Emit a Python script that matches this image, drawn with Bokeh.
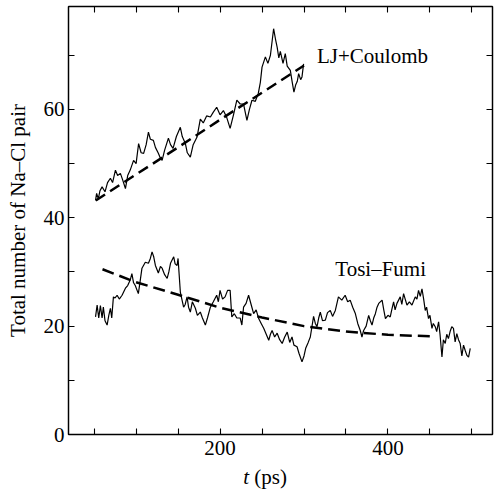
from bokeh.plotting import figure
from bokeh.layouts import column
from bokeh.models import Range1d, FixedTicker, LinearAxis, Label, CustomJSTickFormatter
from bokeh.core.properties import value
from bokeh.embed import file_html
from bokeh.resources import INLINE

# ---- data ----
lj_t = [51.7, 53, 55, 57, 59.5, 63, 66, 69.4, 72, 75.4, 78, 81.3, 84, 87.3, 90, 93, 97, 100,
        103, 106, 109, 112, 114.7, 117, 120.6, 123, 126.5, 129, 131, 134, 138.5, 141, 144,
        148, 152.7, 155, 158.7, 161, 164.6, 168, 172.6, 176.5, 180, 184, 188.5, 192, 196,
        200, 204, 208, 212, 216, 220, 224, 228, 232, 235, 238, 242, 245.6, 248, 250, 254,
        257, 260, 263.8, 266, 268, 270, 271.8, 275, 277.7, 280, 283.7, 286, 288, 290, 292,
        293.6, 296, 297.6, 299.5]
lj_n = [43.2, 44.5, 43.5, 45.0, 45.7, 44.8, 46.5, 47.3, 46.5, 48.8, 47.8, 48.2, 47.0, 45.4,
        47.8, 48.8, 50.6, 50.0, 53.7, 52.0, 51.9, 53.5, 55.8, 54.5, 54.3, 53.0, 51.9, 51.0,
        50.6, 52.5, 54.7, 53.5, 52.8, 55.0, 56.7, 55.0, 53.7, 52.0, 51.2, 53.5, 54.9, 58.2,
        57.5, 58.8, 58.6, 59.5, 60.4, 59.0, 59.8, 58.5, 56.5, 59.0, 61.7, 61.0, 61.0, 58.0,
        60.0, 61.7, 61.5, 63.0, 65.0, 67.8, 69.7, 68.5, 70.0, 74.9, 73.0, 71.5, 69.5, 70.7,
        68.5, 70.3, 68.0, 67.2, 65.0, 63.2, 64.5, 65.2, 66.6, 65.5, 66.0, 68.4]

tf_t = [51.7, 53.6, 55.5, 57.5, 59.5, 61, 63, 65.5, 67.5, 69.4, 71, 73, 75, 77.4, 80, 83.3,
        87.3, 90, 93, 95, 97, 99, 102.7, 105, 107, 111, 114.7, 117, 119, 121, 123, 126.5,
        129, 131, 134, 137, 139, 141, 144.8, 146.5, 148.8, 150, 152.7, 154.5, 156.6, 158.5,
        160.7, 162.5, 164.6, 167, 170.6, 173, 176.5, 179, 182.5, 185, 188.5, 192, 196, 198,
        200, 203, 206, 209, 212, 214, 217, 220, 224, 226, 228, 231, 234, 237, 240, 243, 246,
        249, 252, 255, 258, 260, 262, 265, 268, 271, 274, 277, 280, 283, 285.7, 288, 291.7,
        294, 297.6, 300, 302, 305, 307.5, 311.4, 313.5, 315.5, 317.5, 319.4, 322, 325.4, 328,
        331.3, 334, 337.3, 341, 345, 349, 352, 355, 358, 361, 364, 367, 369, 371, 374, 377,
        379, 381, 383, 385, 387, 389, 393, 395, 397, 400, 402.7, 404.5, 406.7, 408.5, 410.7,
        414.6, 416.5, 418.6, 420.5, 422.6, 425.5, 428.6, 432.5, 434.5, 436.4, 438.5, 440.5,
        442.5, 444.4, 446, 448.3, 450, 452.4, 454, 456.3, 458, 460.3, 462, 464.3, 466, 468.2,
        470, 472, 474, 476, 478, 480, 482, 484, 486, 488, 490, 492, 494, 496, 498]
tf_n = [21.7, 23.9, 21.5, 23.8, 21.5, 23.5, 21.0, 20.2, 22.0, 23.3, 21.5, 25.4, 25.2, 25.7,
        25.0, 25.7, 27.0, 27.5, 28.5, 29.7, 28.0, 27.5, 26.0, 28.5, 30.7, 31.8, 31.6, 32.5,
        33.7, 32.8, 31.2, 29.8, 31.0, 30.7, 29.5, 28.8, 30.0, 31.6, 32.8, 31.5, 31.2, 32.5,
        26.3, 25.0, 23.5, 24.0, 25.4, 23.5, 22.6, 24.5, 23.3, 22.0, 22.6, 21.5, 20.2, 21.5,
        23.5, 24.5, 25.7, 24.5, 26.6, 25.0, 25.4, 26.6, 26.6, 21.7, 22.3, 21.5, 21.5, 20.2,
        23.5, 24.2, 25.7, 24.0, 22.3, 23.0, 21.4, 20.5, 19.6, 18.5, 17.4, 18.5, 19.2, 18.0,
        18.7, 17.5, 16.8, 18.0, 18.9, 17.0, 18.0, 16.5, 16.2, 15.0, 13.4, 14.5, 15.9, 17.0,
        18.0, 21.8, 20.5, 19.9, 21.5, 22.6, 21.0, 21.1, 22.5, 22.9, 21.8, 22.9, 25.4, 24.8,
        25.7, 24.5, 24.8, 23.5, 22.4, 20.5, 19.2, 18.0, 19.2, 20.0, 22.0, 21.0, 20.2, 21.5,
        22.3, 23.5, 24.2, 24.8, 23.0, 21.4, 22.0, 21.7, 23.0, 24.5, 23.0, 24.2, 25.4, 24.0,
        26.0, 25.0, 23.9, 24.5, 23.9, 25.4, 25.0, 26.6, 25.5, 26.9, 25.0, 22.9, 23.5, 21.4,
        22.0, 19.6, 20.5, 19.9, 19.0, 20.8, 18.5, 14.3, 17.5, 16.8, 18.5, 17.7, 19.0, 19.9,
        19.6, 17.1, 18.6, 17.5, 16.8, 14.5, 16.5, 15.5, 14.6, 14.3, 15.9, 15.9]

lj_fit_t = [52, 100, 150, 200, 250, 300]
lj_fit_n = [43.2, 48.0, 53.0, 58.1, 63.1, 68.1]
tf_fit_t = [60, 100, 150, 200, 250, 300, 350, 400, 456]
tf_fit_n = [30.5, 28.1, 25.8, 23.4, 21.6, 20.0, 19.0, 18.4, 18.1]

x_major = [200, 400]
x_minor = [50, 100, 150, 250, 300, 350, 450, 500]
y_major = [0, 20, 40, 60]
y_minor = [10, 30, 50, 70]

FONT = "Liberation Serif"
FS = "21px"

p = figure(width=497, height=464, x_range=Range1d(19.5, 524.5), y_range=Range1d(0, 79),
           output_backend="svg", toolbar_location=None,
           min_border_left=68, min_border_right=5, min_border_top=6, min_border_bottom=30)
p.grid.visible = False
p.outline_line_color = "black"
p.outline_line_width = 1.2
p.background_fill_color = "white"
p.border_fill_color = "white"

def style(ax, ticker, labels=True):
    ax.ticker = ticker
    ax.axis_line_color = "black"
    ax.axis_line_width = 1.3
    ax.major_tick_in = 6
    ax.major_tick_out = 0
    ax.minor_tick_in = 6
    ax.minor_tick_out = 0
    ax.major_tick_line_color = "black"
    ax.minor_tick_line_color = "black"
    ax.major_tick_line_width = 1.1
    ax.minor_tick_line_width = 1.1
    if labels:
        ax.major_label_text_font = FONT
        ax.major_label_text_font_size = FS
        ax.major_label_text_color = "black"
    else:
        ax.formatter = CustomJSTickFormatter(code="return ''")
        ax.major_label_standoff = 0

style(p.xaxis[0], FixedTicker(ticks=x_major, minor_ticks=x_minor))
p.xaxis[0].major_label_standoff = 6
style(p.yaxis[0], FixedTicker(ticks=y_major, minor_ticks=y_minor))
p.yaxis[0].major_label_standoff = 4
p.yaxis[0].axis_label = "Total number of Na\u2013Cl pair"
p.yaxis[0].axis_label_text_font = FONT
p.yaxis[0].axis_label_text_font_size = FS
p.yaxis[0].axis_label_text_font_style = "normal"
p.yaxis[0].axis_label_text_color = "black"
p.yaxis[0].axis_label_standoff = 11

top = LinearAxis()
style(top, FixedTicker(ticks=x_major, minor_ticks=x_minor), labels=False)
p.add_layout(top, "above")
right = LinearAxis()
style(right, FixedTicker(ticks=y_major, minor_ticks=y_minor), labels=False)
p.add_layout(right, "right")

p.line(lj_t, lj_n, line_color="black", line_width=1.2)
p.line(tf_t, tf_n, line_color="black", line_width=1.2)
p.line(lj_fit_t, lj_fit_n, line_color="black", line_width=2.5, line_dash="11 6")
p.line(tf_fit_t, tf_fit_n, line_color="black", line_width=2.5, line_dash="12 6")

p.add_layout(Label(x=315.5, y=69.9, text="LJ+Coulomb", text_font=FONT,
                   text_font_size=FS, text_color="black", text_baseline="alphabetic"))
p.add_layout(Label(x=337.3, y=30.5, text="Tosi\u2013Fumi", text_font=FONT,
                   text_font_size=FS, text_color="black", text_baseline="alphabetic"))

# strip below the plot holding the x-axis title (t italic, (ps) upright);
# it shares the x range, so the title sits at the same t position as in the reference
q = figure(width=497, height=27, x_range=p.x_range, y_range=Range1d(0, 27),
           output_backend="svg", toolbar_location=None,
           x_axis_location=None, y_axis_location=None,
           min_border_left=68, min_border_right=5, min_border_top=0, min_border_bottom=0)
q.grid.visible = False
q.outline_line_color = None
q.background_fill_color = "white"
q.border_fill_color = "white"
q.text(x=[227.7], y=[15], text=["t"], text_font=value(FONT), text_font_style="italic",
       text_font_size=FS, text_color="black", text_baseline="alphabetic")
q.text(x=[240.8], y=[15], text=["(ps)"], text_font=value(FONT), text_font_style="normal",
       text_font_size=FS, text_color="black", text_baseline="alphabetic")

layout = column(p, q, spacing=0)
open("out.html", "w").write(file_html(layout, INLINE))
